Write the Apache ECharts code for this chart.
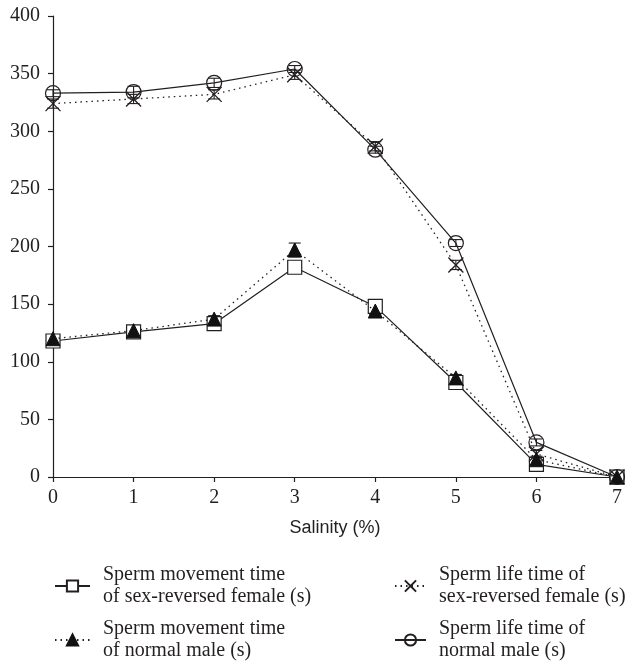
<!DOCTYPE html>
<html><head><meta charset="utf-8">
<script src="https://cdn.jsdelivr.net/npm/echarts@6/dist/echarts.min.js"></script>
<style>html,body{margin:0;padding:0;background:#fff}#c{width:629px;height:662px}</style>
</head><body><div id="c"></div>
<script>
const salinity = [0, 1, 2, 3, 4, 5, 6, 7];
const yTicks = [0, 50, 100, 150, 200, 250, 300, 350, 400];
const moveFemale = [118, 126, 133, 182, 148, 82, 11, 0];
const moveFemaleErr = [4, 4, 4, 5, 5, 3, 2, 0];
const moveMale = [120, 127, 137, 197, 144, 86, 15, 0];
const moveMaleErr = [3, 3, 3, 6, 3, 3, 3, 0];
const lifeFemale = [324, 328, 332, 349, 287, 184, 20, 0];
const lifeFemaleErr = [4, 4, 4, 4, 4, 4, 3, 0];
const lifeMale = [333, 334, 342, 354, 284, 203, 30, 0];
const lifeMaleErr = [3, 5, 4, 3, 3, 3, 3, 0];
const names = [
  'Sperm movement time\nof sex-reversed female (s)',
  'Sperm movement time\nof normal male (s)',
  'Sperm life time of\nsex-reversed female (s)',
  'Sperm life time of\nnormal male (s)'
];

const INK = '#231f20';
const pairs = (ys) => salinity.map((x, i) => [x, ys[i]]);
const errData = (ys, es) => salinity.map((x, i) => [x, ys[i] - es[i], ys[i] + es[i]]);

function errSeries(ys, es) {
  return {
    type: 'custom', silent: true, z: 3,
    data: errData(ys, es),
    renderItem: function (params, api) {
      const x = api.value(0);
      const lo = api.coord([x, api.value(1)]);
      const hi = api.coord([x, api.value(2)]);
      const w = 6;
      const st = { stroke: INK, lineWidth: 1.1 };
      return { type: 'group', children: [
        { type: 'line', shape: { x1: lo[0], y1: lo[1], x2: hi[0], y2: hi[1] }, style: st },
        { type: 'line', shape: { x1: hi[0] - w, y1: hi[1], x2: hi[0] + w, y2: hi[1] }, style: st },
        { type: 'line', shape: { x1: lo[0] - w, y1: lo[1], x2: lo[0] + w, y2: lo[1] }, style: st }
      ]};
    }
  };
}

const serifFont = 'Liberation Serif';
const chart = echarts.init(document.getElementById('c'), null, { renderer: 'canvas' });

function legendAt(name, left, top, w) {
  return {
    data: [name], left: left, top: top, orient: 'vertical',
    itemWidth: w, itemHeight: 14, itemGap: 0,
    textStyle: { fontFamily: serifFont, fontSize: 20, color: INK, lineHeight: 22, padding: [0, 0, 0, 8] },
    selectedMode: false
  };
}

chart.setOption({
  animation: false,
  backgroundColor: '#fff',
  grid: { left: 53, right: 12, top: 16, bottom: 185 },
  legend: [
    legendAt(names[0], 49, 559, 35),
    legendAt(names[1], 49, 613, 35),
    legendAt(names[2], 389, 559, 31),
    legendAt(names[3], 389, 613, 31)
  ],
  xAxis: {
    type: 'value', min: 0, max: 7, interval: 1,
    name: 'Salinity (%)', nameLocation: 'middle', nameGap: 42,
    nameTextStyle: { fontFamily: 'Liberation Sans', fontSize: 18, color: INK },
    axisLine: { lineStyle: { color: INK, width: 1.2 } },
    axisTick: { inside: false, length: 5, lineStyle: { color: INK, width: 1.2 } },
    axisLabel: { fontFamily: serifFont, fontSize: 20, color: INK, margin: 11,
      formatter: (v) => String(salinity[v]) },
    splitLine: { show: false }
  },
  yAxis: {
    type: 'value', min: yTicks[0], max: yTicks[yTicks.length - 1], interval: 50,
    axisLine: { show: true, lineStyle: { color: INK, width: 1.2 } },
    axisTick: { show: true, inside: false, length: 5, lineStyle: { color: INK, width: 1.2 } },
    axisLabel: { fontFamily: serifFont, fontSize: 20, color: INK, margin: 13 },
    splitLine: { show: false }
  },
  series: [
    { name: names[0], type: 'line', data: pairs(moveFemale), z: 4,
      symbol: 'rect', symbolSize: 14,
      lineStyle: { color: INK, width: 1.2, type: 'solid' },
      itemStyle: { color: '#fff', borderColor: INK, borderWidth: 1.2 } },
    { name: names[1], type: 'line', data: pairs(moveMale), z: 5,
      symbol: 'triangle', symbolSize: 14,
      lineStyle: { color: INK, width: 1.3, type: [1.5, 4] },
      itemStyle: { color: '#111', borderColor: '#111', borderWidth: 1 } },
    { name: names[2], type: 'line', data: pairs(lifeFemale), z: 4,
      symbol: 'path://M0,0L10,10M10,0L0,10', symbolSize: 15,
      lineStyle: { color: INK, width: 1.3, type: [1.5, 4] },
      itemStyle: { color: 'none', borderColor: INK, borderWidth: 1.3 } },
    { name: names[3], type: 'line', data: pairs(lifeMale), z: 5,
      symbol: 'circle', symbolSize: 15,
      lineStyle: { color: INK, width: 1.2, type: 'solid' },
      itemStyle: { color: 'rgba(255,255,255,0)', borderColor: INK, borderWidth: 1.2 } },
    errSeries(moveFemale, moveFemaleErr),
    errSeries(moveMale, moveMaleErr),
    errSeries(lifeFemale, lifeFemaleErr),
    errSeries(lifeMale, lifeMaleErr)
  ]
});
</script></body></html>
